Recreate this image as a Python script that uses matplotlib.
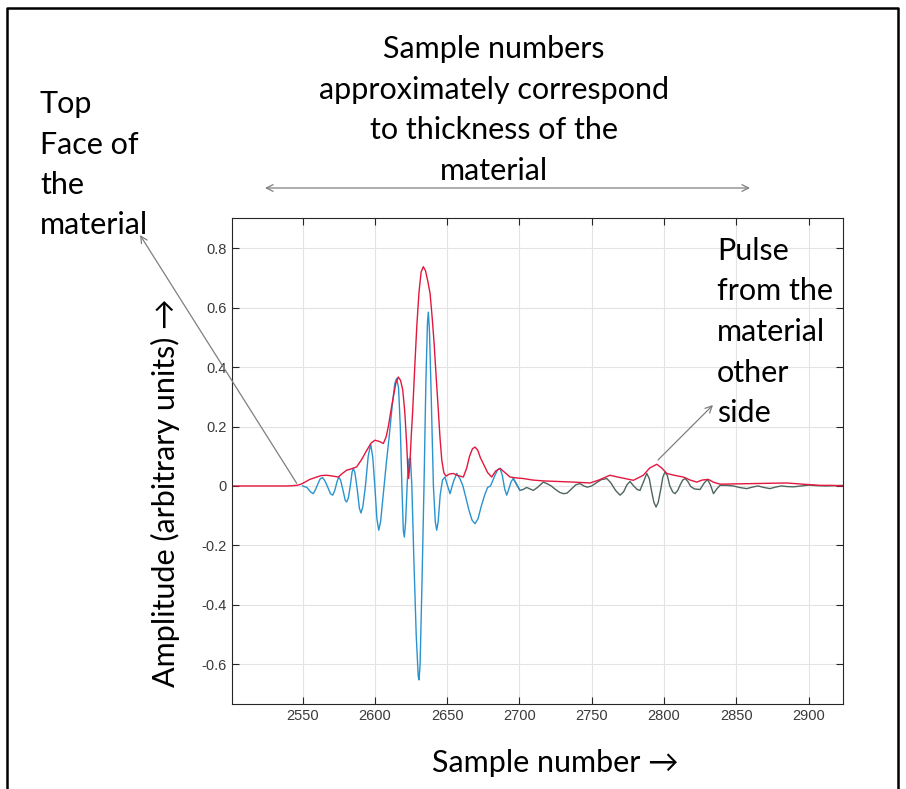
import matplotlib.pyplot as plt
from matplotlib.lines import Line2D
from matplotlib.patches import FancyArrowPatch

# red envelope
env_x = [2501, 2540, 2546, 2549, 2551.7, 2555, 2559.8, 2563, 2566.7, 2570, 2574.7, 2577.5, 2580.5,
         2584, 2587.4, 2591, 2594.4, 2597.5, 2600.1, 2603, 2605.9, 2607.8, 2609.3, 2611, 2612.8,
         2614.5, 2616.2, 2617.8, 2619.3, 2620.7, 2622.0, 2622.8, 2623.4, 2624.3, 2625.2, 2626.2,
         2627.6, 2629.0, 2630.5, 2632, 2633.5, 2635, 2636.6, 2638.2, 2639.6, 2641.0, 2642.5,
         2643.9, 2645.1, 2646.3, 2647.7, 2649.2, 2651.5, 2654.3, 2657.5, 2661.2, 2663.5, 2665.5,
         2667.5, 2669.3, 2671.2, 2673, 2675, 2678, 2680.8, 2683.5, 2686.6, 2690, 2693.5, 2698,
         2702.7, 2709, 2716.5, 2727, 2737.3, 2748.8, 2755, 2762.6, 2768, 2773, 2778.8, 2785.7,
         2790, 2795, 2798.5, 2801.9, 2807, 2813.4, 2818, 2822.6, 2826.5, 2830.7, 2834.5, 2838.8,
         2850, 2861.8, 2873, 2884.9, 2896, 2908, 2916, 2924]
env_y = [0.0, 0.0, 0.002, 0.006, 0.013, 0.022, 0.030, 0.035, 0.036, 0.034, 0.030, 0.042, 0.053,
         0.058, 0.064, 0.090, 0.120, 0.145, 0.154, 0.150, 0.143, 0.165, 0.199, 0.250, 0.300,
         0.345, 0.367, 0.355, 0.323, 0.250, 0.143, 0.060, 0.025, 0.080, 0.170, 0.255,
         0.400, 0.536, 0.650, 0.720, 0.738, 0.725, 0.690, 0.648, 0.570, 0.480, 0.360,
         0.255, 0.160, 0.087, 0.045, 0.033, 0.040, 0.042, 0.035, 0.030, 0.060, 0.100,
         0.125, 0.131, 0.120, 0.095, 0.075, 0.045, 0.030, 0.050, 0.059, 0.045, 0.030, 0.027,
         0.025, 0.020, 0.017, 0.015, 0.013, 0.010, 0.020, 0.036, 0.030, 0.025, 0.019, 0.036,
         0.060, 0.073, 0.060, 0.042, 0.036, 0.030, 0.020, 0.013, 0.020, 0.022, 0.012, 0.006,
         0.007, 0.008, 0.009, 0.010, 0.006, 0.002, 0.002, 0.0]

# blue pulse (first reflection)
pulse_x = [2550, 2553, 2555.5, 2557.4, 2559, 2560.5, 2562.2, 2563.9, 2565.7, 2567.5, 2569.3,
           2570.9, 2572.3, 2573.7, 2575.0, 2576.3, 2578.0, 2579.5, 2580.5, 2581.7, 2583.0,
           2584.3, 2585.1, 2586.2, 2587.8, 2589.3, 2590.4, 2591.7, 2593.5, 2595.4, 2597.1,
           2598.5, 2600.0, 2601.4, 2602.7, 2604.0, 2606.0, 2608.0, 2610.0, 2612.0, 2613.8,
           2615.1, 2616.4, 2617.6, 2618.7, 2619.7, 2620.4, 2621.3, 2622.5, 2623.6, 2624.6,
           2625.6, 2627.0, 2628.6, 2630.0, 2630.6, 2631.3, 2632.5, 2634.0, 2635.3, 2636.4,
           2637.0, 2637.8, 2639.0, 2640.5, 2641.8, 2642.8, 2643.8, 2645.2, 2646.8, 2648.5,
           2650.3, 2652.0, 2654.4, 2656.6, 2658.8, 2660.8, 2663.0, 2665.0, 2667.2, 2669.3,
           2671.4, 2673.5, 2676.0, 2678.0, 2680.0, 2683.0, 2685.0, 2686.6, 2688.2, 2689.8,
           2691.2, 2692.7, 2694.3, 2695.8, 2698.2, 2700.4]
pulse_y = [0.0, -0.005, -0.020, -0.026, -0.012, 0.006, 0.024, 0.028, 0.015, -0.005, -0.026,
           -0.031, -0.015, 0.012, 0.030, 0.020, -0.015, -0.048, -0.054, -0.040, 0.0,
           0.048, 0.059, 0.045, -0.010, -0.075, -0.091, -0.070, 0.0, 0.100, 0.140,
           0.100, 0.0, -0.110, -0.149, -0.120, -0.020, 0.080, 0.170, 0.270, 0.345,
           0.362, 0.330, 0.200, 0.0, -0.150, -0.172, -0.120, 0.020, 0.090, 0.095,
           0.0, -0.250, -0.500, -0.640, -0.653, -0.600, -0.350, 0.0, 0.350, 0.550,
           0.585, 0.520, 0.300, 0.0, -0.120, -0.149, -0.120, -0.030, 0.020, 0.030,
           0.0, -0.026, 0.015, 0.042, 0.025, 0.002, -0.040, -0.080, -0.115, -0.127,
           -0.110, -0.070, -0.030, -0.005, 0.0, 0.035, 0.055, 0.059, 0.035, -0.010,
           -0.031, -0.010, 0.015, 0.025, 0.005, -0.015]

# dark trace (second reflection)
echo_x = [2695.8, 2698, 2700.4, 2702.5, 2705, 2707.3, 2709.6, 2712.5, 2716.5, 2719, 2722, 2725,
          2728, 2730.5, 2733, 2736, 2739, 2741.9, 2744.5, 2747, 2750, 2753, 2756.5, 2760.4,
          2763, 2766.5, 2769.6, 2772, 2774.5, 2776.5, 2779, 2781.5, 2783.4, 2785.5, 2788.1,
          2789.8, 2791.5, 2793, 2794.5, 2796, 2797.8, 2799.2, 2800.7, 2802.3, 2804, 2806,
          2807.6, 2809.5, 2811.3, 2813, 2814.6, 2816.5, 2818.5, 2821, 2824.9, 2827.5, 2830,
          2832, 2834.2, 2836.5, 2838.8, 2843, 2848, 2852, 2857.2, 2861, 2865, 2869, 2873.3,
          2877, 2881, 2885, 2889.5, 2895, 2900, 2906, 2912, 2918, 2924]
echo_y = [0.025, 0.005, -0.015, -0.012, -0.005, -0.010, -0.015, -0.005, 0.013, 0.008, 0.0, -0.012,
          -0.022, -0.026, -0.024, -0.010, 0.004, 0.008, 0.0, -0.004, 0.0, 0.010, 0.021, 0.025,
          0.012, -0.015, -0.031, -0.020, 0.005, 0.015, 0.0, -0.012, -0.015, 0.010, 0.042,
          0.025, -0.020, -0.055, -0.071, -0.055, -0.010, 0.030, 0.047, 0.035, 0.0, -0.020,
          -0.026, -0.015, 0.005, 0.020, 0.025, 0.015, -0.002, -0.010, -0.012, 0.008, 0.022,
          0.005, -0.026, -0.010, 0.002, 0.002, 0.0, -0.005, -0.009, -0.004, 0.0, -0.005, -0.009,
          -0.004, 0.0, -0.002, -0.003, 0.0, 0.003, 0.001, 0.0, 0.001, 0.002]

xticks = [2550, 2600, 2650, 2700, 2750, 2800, 2850, 2900]
yticks = [-0.6, -0.4, -0.2, 0, 0.2, 0.4, 0.6, 0.8]
ylabels = ['-0.6', '-0.4', '-0.2', '0', '0.2', '0.4', '0.6', '0.8']

W, H = 906, 789
txt_font = ['Lato', 'DejaVu Sans']
fs = 22

fig = plt.figure(figsize=(W/100, H/100), dpi=100)
ax = fig.add_axes([231.7/W, 1-704/H, (843.3-231.7)/W, (704-218.3)/H])

ax.plot(echo_x, echo_y, color='#4e6660', lw=1.0)
ax.plot(pulse_x, pulse_y, color='#2a93cf', lw=1.0)
ax.plot(env_x, env_y, color='#e3173e', lw=1.0)

ax.set_xlim(2501, 2924)
ax.set_ylim(-0.734, 0.901)
ax.set_xticks(xticks)
ax.set_yticks(yticks)
ax.set_yticklabels(ylabels)
ax.grid(True, color='#e3e3e3', lw=0.8)
ax.set_axisbelow(True)
ax.tick_params(direction='in', length=5, width=0.8, top=True, right=True, color='#262626',
               labelsize=10.5, labelcolor='#3a3a3a')
for lab in ax.get_xticklabels() + ax.get_yticklabels():
    lab.set_family('Liberation Sans')
for s in ax.spines.values():
    s.set_color('#262626')
    s.set_linewidth(0.8)

def fx(px):
    return px / W

def fy(py):
    return 1 - py / H

# texts
for i, line in enumerate(['Sample numbers', 'approximately correspond', 'to thickness of the', 'material']):
    fig.text(fx(494), fy(58 + 40.5*i), line, ha='center', va='baseline', fontsize=fs, family=txt_font)
for i, line in enumerate(['Top', 'Face of', 'the', 'material']):
    fig.text(fx(40), fy(113 + 40.5*i), line, ha='left', va='baseline', fontsize=fs, family=txt_font)
for i, line in enumerate(['Pulse', 'from the', 'material', 'other', 'side']):
    fig.text(fx(717), fy(260 + 40.5*i), line, ha='left', va='baseline', fontsize=fs, family=txt_font)

fig.text(fx(555), fy(772), 'Sample number \u2192', ha='center', va='baseline', fontsize=fs, family=txt_font)
fig.text(fx(165), fy(493), 'Amplitude (arbitrary units) \u2192', ha='center', va='center', rotation=90,
         fontsize=fs, family=txt_font)

# annotation arrows
for a, b, style in [((265, 188), (750, 188), '<->'),
                    ((296.7, 483.3), (140, 235), '->'),
                    ((658, 460), (713, 405), '->')]:
    fig.add_artist(FancyArrowPatch((fx(a[0]), fy(a[1])), (fx(b[0]), fy(b[1])),
                                   transform=fig.transFigure, arrowstyle=style, color='#7f7f7f',
                                   lw=0.9, mutation_scale=12, shrinkA=0, shrinkB=0))

# outer frame
fig.add_artist(Line2D([fx(7), fx(7), fx(898), fx(898)], [0, fy(8), fy(8), 0],
                      transform=fig.transFigure, color='black', lw=1.8))

fig.savefig('out.png', dpi=100)
